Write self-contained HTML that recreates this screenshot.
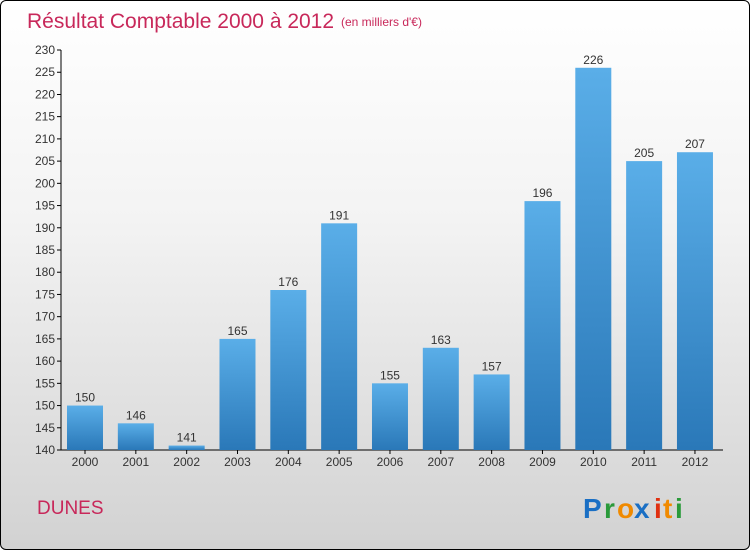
<!DOCTYPE html>
<html><head><meta charset="utf-8"><style>
body{margin:0;}
#c{position:relative;width:748px;height:548px;border:1px solid #000;border-radius:6px;overflow:hidden;background:linear-gradient(#ffffff,#f3f3f3 40%,#d2d2d2);font-family:"Liberation Sans",sans-serif;}
</style></head><body>
<div id="c">
<svg id="s" width="748" height="548">
<text x="26" y="27" font-size="21" fill="#c8285a">Résultat Comptable 2000 à 2012</text>
<text x="340" y="25" font-size="12" fill="#c8285a">(en milliers d'€)</text>
<text x="36" y="513" font-size="19" fill="#c8285a">DUNES</text>
<g font-size="28" font-weight="bold">
<text x="582" y="517" fill="#1a6fc4">P</text><text x="603" y="517" fill="#2a9a3a">r</text><text x="616" y="517" fill="#f08a00">o</text><text x="633" y="517" fill="#1a6fc4">x</text><text x="653" y="517" fill="#e03010">i</text><text x="662" y="517" fill="#f08a00">t</text><text x="674" y="517" fill="#2a9a3a">i</text>
</g>
<defs><linearGradient id="g" x1="0" y1="0" x2="0" y2="1"><stop offset="0" stop-color="#5aaee8"/><stop offset="1" stop-color="#2a78b8"/></linearGradient></defs>
<g id="plot"></g>
</svg>
</div>
<script>
const years=["2000","2001","2002","2003","2004","2005","2006","2007","2008","2009","2010","2011","2012"];
const values=[150,146,141,165,176,191,155,163,157,196,226,205,207];
const ticks=[140,145,150,155,160,165,170,175,180,185,190,195,200,205,210,215,220,225,230];
const NS="http://www.w3.org/2000/svg";
const g=document.getElementById('plot');
const y0=449,y1=49,vmin=140,vmax=230;
const Y=v=>y0-(v-vmin)/(vmax-vmin)*(y0-y1);
const X=i=>84+i*50.83;
function mk(t,a){const e=document.createElementNS(NS,t);for(const k in a)e.setAttribute(k,a[k]);g.appendChild(e);return e;}
let ax=mk('line',{x1:60,y1:y1,x2:60,y2:y0,stroke:'#000'});


let bx=mk('line',{x1:60,y1:y0,x2:722,y2:y0,stroke:'#000'});


ticks.forEach(t=>{
 let l=mk('line',{x1:56,x2:60,y1:Y(t),y2:Y(t),stroke:'#000'});
 
 
 let tx=mk('text',{x:54,y:Y(t)+4,'font-size':12,'text-anchor':'end',fill:'#333'});
 tx.textContent=t;
 
 
});
values.forEach((v,i)=>{
 let r=mk('rect',{x:X(i)-18,y:Y(v),width:36,height:y0-Y(v),fill:'url(#g)'});
 
 
 let t=mk('text',{x:X(i),y:Y(v)-4,'font-size':12,'text-anchor':'middle',fill:'#333'});
 t.textContent=v;
 
 
 let tk=mk('line',{x1:X(i),x2:X(i),y1:y0,y2:y0+4,stroke:'#000'});
 
 
 let xl=mk('text',{x:X(i),y:y0+16,'font-size':12,'text-anchor':'middle',fill:'#333'});
 xl.textContent=years[i];
 
 
});
</script>
</body></html>
